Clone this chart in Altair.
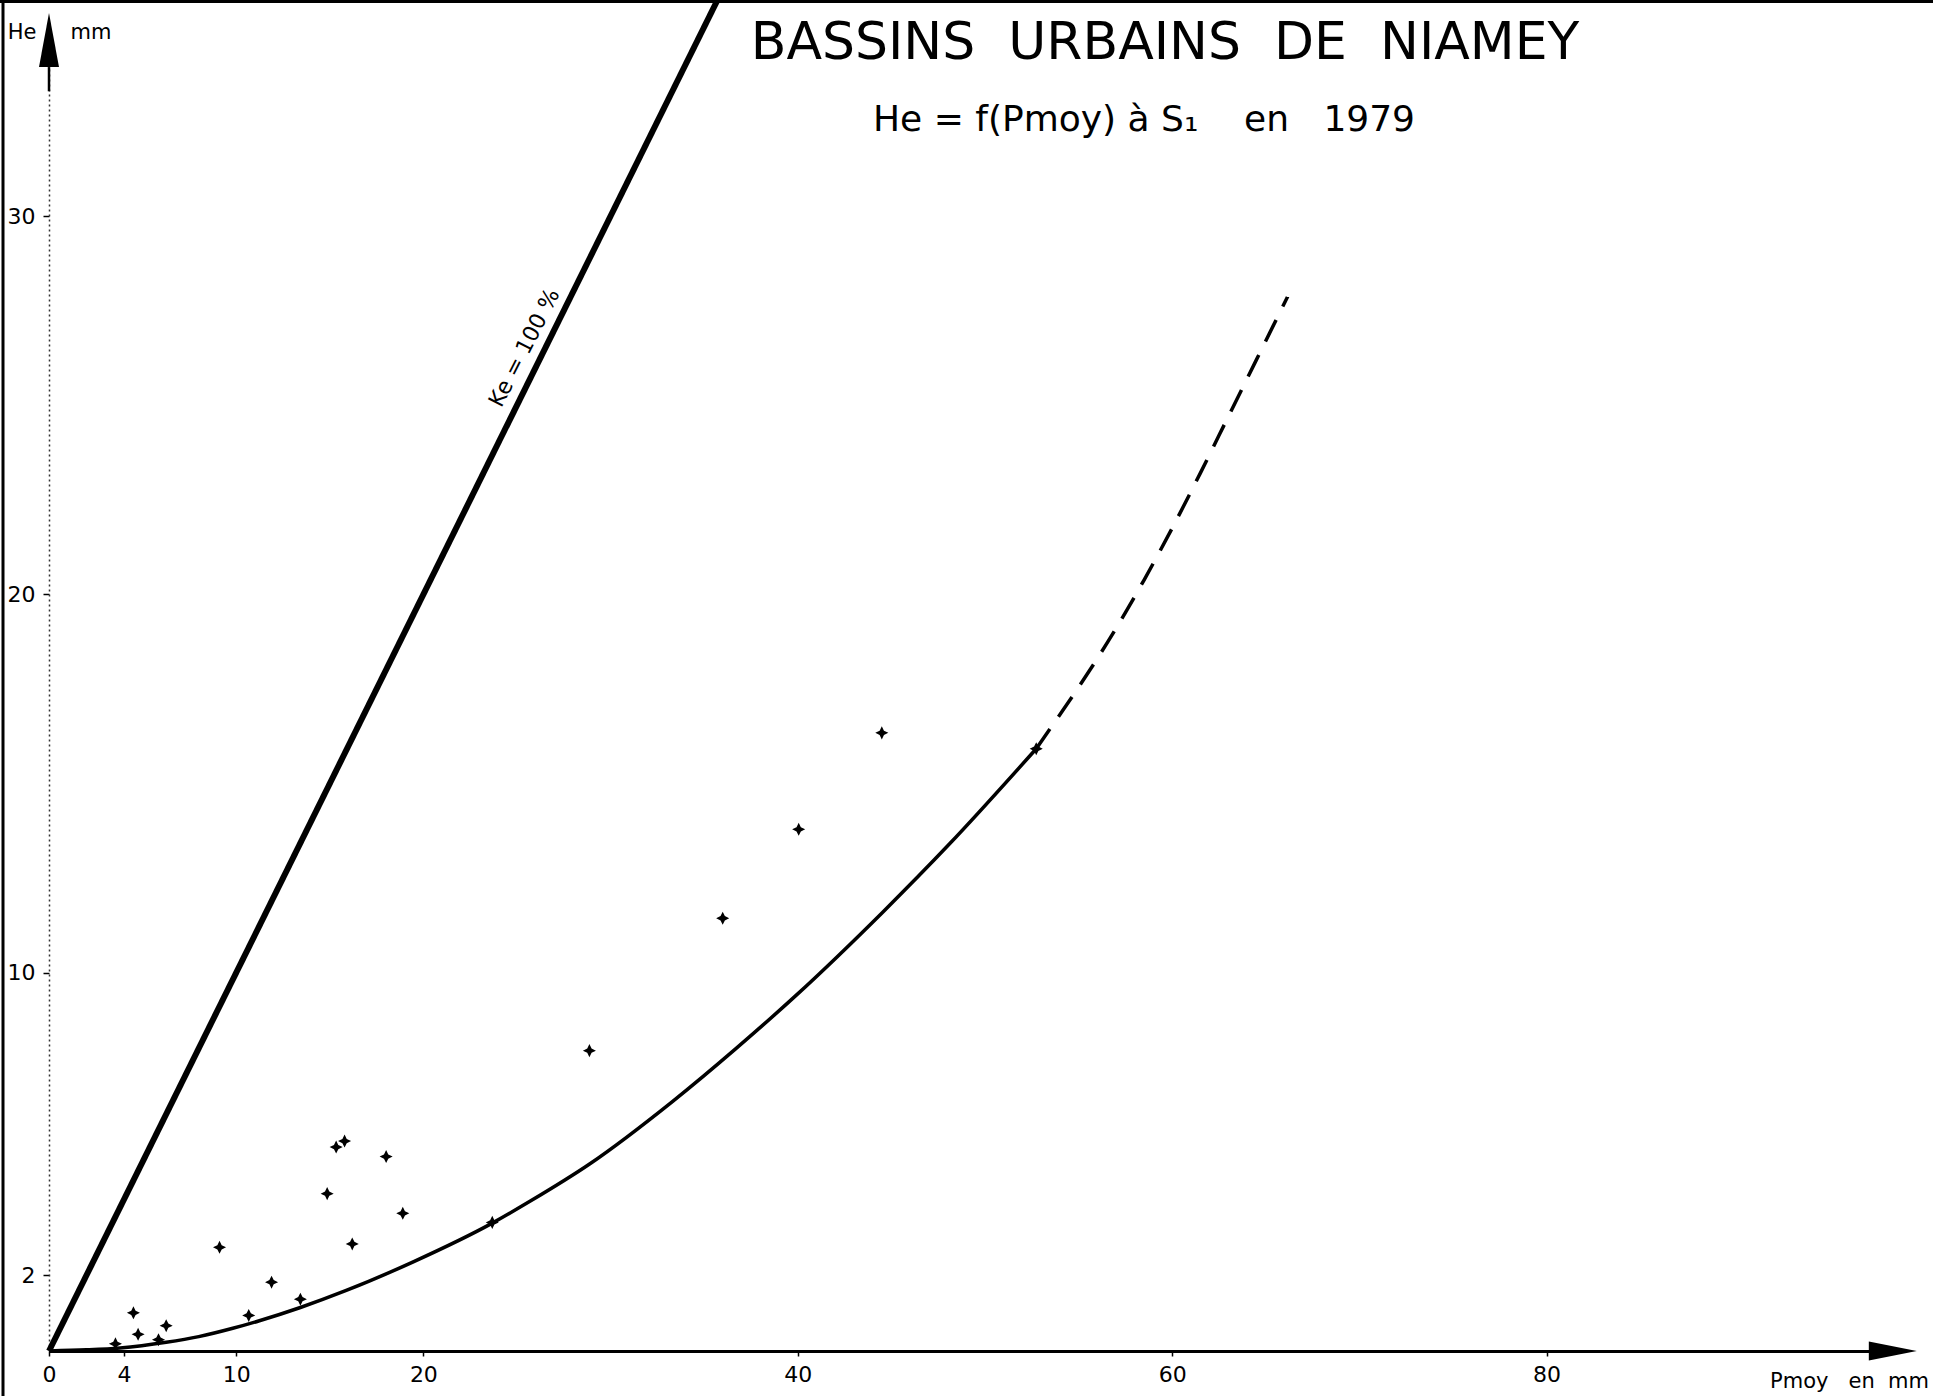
import altair as alt
import pandas as pd

# Storm events observed at S1 in 1979: mean rainfall Pmoy (mm) vs runoff depth He (mm)
event_pmoy = [3.55, 4.51, 4.76, 5.85, 6.26, 9.11, 10.67, 11.89, 13.43, 14.86, 15.34,
              15.79, 16.20, 18.01, 18.90, 23.68, 28.87, 35.99, 40.05, 44.49, 52.74]
event_he = [0.19, 1.01, 0.44, 0.30, 0.67, 2.74, 0.94, 1.82, 1.37, 4.16, 5.39,
            5.55, 2.83, 5.14, 3.64, 3.40, 7.94, 11.44, 13.79, 16.34, 15.92]

# Fitted relation He = f(Pmoy), drawn solid over the observed range
fit_pmoy = [0, 2, 3.8, 6.26, 8, 9.82, 11.24, 13.43, 15.88, 19.43, 23.68, 25.67,
            28.9, 33.32, 36.71, 39.91, 44.54, 48.1, 52.74]
fit_he = [0, 0.03, 0.08, 0.23, 0.38, 0.6, 0.8, 1.15, 1.6, 2.35, 3.38, 3.95,
          4.95, 6.6, 8.0, 9.4, 11.6, 13.4, 15.92]

# Extrapolated part of the relation (dashed)
ext_pmoy = [52.74, 54.0, 55.5, 57.0, 58.5, 60.0, 61.5, 63.0, 64.5, 66.16]
ext_he = [15.92, 16.82, 17.92, 19.1, 20.38, 21.75, 23.2, 24.7, 26.2, 27.86]

# Runoff coefficient Ke = 100 %  (He = Pmoy)
ke_pmoy = [0, 37]
ke_he = [0, 37]

x_ticks = [0, 4, 10, 20, 40, 60, 80]
y_ticks = [2, 10, 20, 30]

title_text = "BASSINS\u00a0\u00a0URBAINS\u00a0\u00a0DE\u00a0\u00a0NIAMEY"
subtitle_text = "He = f(Pmoy) à S\u2081\u00a0\u00a0\u00a0\u00a0en\u00a0\u00a0\u00a01979"

W, H = 1841, 1311
X_MAX = 98.35
Y_MAX = 34.655
FONT = "DejaVu Sans"

star = "M0,-1L0.33,-0.33L1,0L0.33,0.33L0,1L-0.33,0.33L-1,0L-0.33,-0.33Z"
arrow_right = "M1,0L-1,-0.4L-1,0.4Z"
arrow_up = "M0,-1L0.37,1L-0.37,1Z"


def xenc():
    return alt.X("x:Q", scale=alt.Scale(domain=[0, X_MAX], nice=False, zero=False),
                 axis=alt.Axis(values=x_ticks, title=None, grid=False, domainColor="black",
                               domainWidth=3, tickColor="black", tickWidth=1.5, tickSize=5,
                               labelFont=FONT, labelFontSize=22, labelColor="black",
                               labelPadding=8, labelFlush=False))


def yenc():
    return alt.Y("y:Q", scale=alt.Scale(domain=[0, Y_MAX], nice=False, zero=False),
                 axis=alt.Axis(values=y_ticks, title=None, grid=False, domainColor="#333",
                               domainWidth=1.5, domainDash=[2, 3], tickColor="black",
                               tickWidth=1.5, tickSize=6, labelFont=FONT, labelFontSize=22,
                               labelColor="black", labelPadding=8, labelFlush=False))


events = pd.DataFrame({"x": event_pmoy, "y": event_he})
fit = pd.DataFrame({"x": fit_pmoy, "y": fit_he})
ext = pd.DataFrame({"x": ext_pmoy, "y": ext_he})
ke = pd.DataFrame({"x": ke_pmoy, "y": ke_he})

ke_line = alt.Chart(ke).mark_line(color="black", strokeWidth=6).encode(x=xenc(), y=yenc())

fit_line = alt.Chart(fit).mark_line(color="black", strokeWidth=3.5,
                                    interpolate="monotone").encode(x=xenc(), y=yenc())

ext_line = alt.Chart(ext).mark_line(color="black", strokeWidth=3.5, strokeDash=[24, 15],
                                    interpolate="monotone").encode(x=xenc(), y=yenc())

points = alt.Chart(events).mark_point(shape=star, filled=True, color="black", size=170,
                                      opacity=1).encode(x=xenc(), y=yenc())

# Arrowheads at the ends of both axes
x_arrow = alt.Chart(pd.DataFrame({"x": [98.5], "y": [0]})).mark_point(
    shape=arrow_right, filled=True, color="black", size=2300, opacity=1
).encode(x=xenc(), y=yenc())

y_arrow = alt.Chart(pd.DataFrame({"x": [0], "y": [Y_MAX]})).mark_point(
    shape=arrow_up, filled=True, color="black", size=2916, opacity=1
).encode(x=xenc(), y=yenc())

y_stem = alt.Chart(pd.DataFrame({"x": [0, 0], "y": [33.94, 33.3]})).mark_line(
    color="black", strokeWidth=2.5).encode(x=xenc(), y=yenc())

ke_label = alt.Chart(pd.DataFrame({"x": [25.4], "y": [26.52], "t": ["Ke = 100 %"]})).mark_text(
    angle=297, font=FONT, fontSize=22, color="black", align="center", baseline="middle"
).encode(x=xenc(), y=yenc(), text="t:N")

# Frame around the sheet (left and top edges)
frame_left = alt.Chart(pd.DataFrame({"a": [0]})).mark_rule(color="black", strokeWidth=3).encode(
    x=alt.value(-46), y=alt.value(-40), y2=alt.value(1396 - 40))
frame_top = alt.Chart(pd.DataFrame({"a": [0]})).mark_rule(color="black", strokeWidth=3).encode(
    x=alt.value(-49), x2=alt.value(1933 - 49), y=alt.value(-38.5))


def label(text, x, y, size, align="center"):
    return alt.Chart(pd.DataFrame({"t": [text]})).mark_text(
        font=FONT, fontSize=size, color="black", align=align, baseline="alphabetic"
    ).encode(x=alt.value(x), y=alt.value(y), text="t:N")


title = label(title_text, 1116, 19, 52)
subtitle = label(subtitle_text, 1095, 91, 36)
he_lab = label("He", -27, -1, 21)
mm_lab = label("mm", 42, -1, 21)
pmoy_lab = label("Pmoy\u00a0\u00a0\u00a0en\u00a0\u00a0mm", 1880, 1348, 21, align="right")

chart = alt.layer(
    frame_left, frame_top, ke_line, fit_line, ext_line, points, y_stem, x_arrow, y_arrow,
    ke_label, title, subtitle, he_lab, mm_lab, pmoy_lab
).properties(
    width=W, height=H,
    autosize=alt.AutoSizeParams(type="none"),
    padding={"left": 49, "top": 40, "right": 43, "bottom": 45},
    background="white",
).configure_view(stroke=None)

chart.save("out.html", embed_options={"renderer": "svg", "actions": False})
